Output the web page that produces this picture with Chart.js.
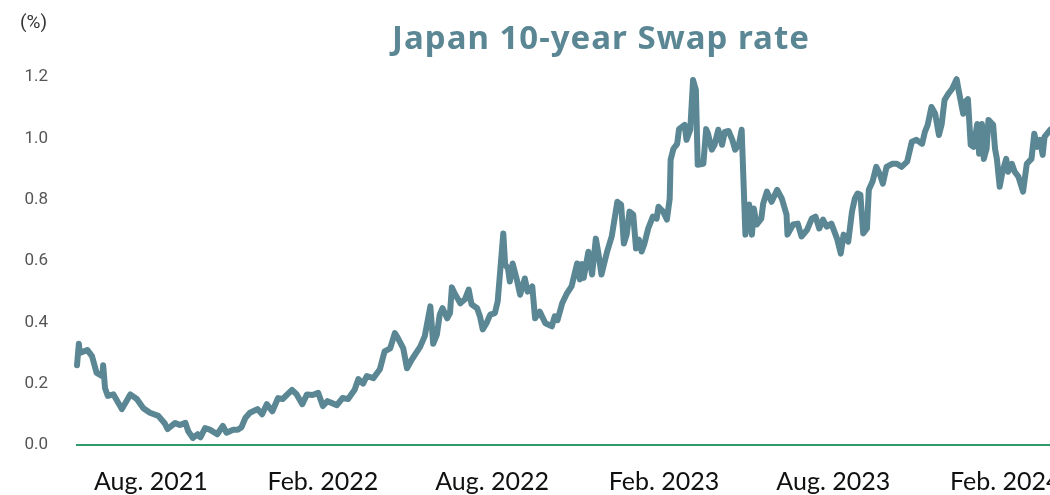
<!DOCTYPE html>
<html>
<head>
<meta charset="utf-8">
<script src="https://cdn.jsdelivr.net/npm/chart.js@4.4.1/dist/chart.umd.min.js"></script>
<style>
  html, body { margin: 0; padding: 0; background: #fff; overflow: hidden; }
  #wrap { width: 1120px; height: 495px; }
</style>
</head>
<body>
<div id="wrap"><canvas id="swap" width="1120" height="495"></canvas></div>
<script>
// days counted from 14 May 2021
const startDate = '2021-05-14';
const dayIdx = [
  0, 2, 3, 11, 16, 21, 27, 28, 30, 33, 39, 48, 57, 64, 71, 78, 87, 94, 97, 105,
  110, 116, 119, 124, 129, 132, 137, 142, 150, 156, 160, 167, 172, 176, 180, 185, 193, 198, 203, 209,
  215, 220, 230, 235, 241, 246, 252, 258, 263, 268, 278, 284, 290, 297, 301, 306, 310, 317, 324, 329,
  335, 340, 343, 349, 353, 358, 367, 372, 378, 381, 385, 388, 391, 396, 399, 401, 404, 410, 415, 419,
  422, 428, 431, 434, 438, 442, 447, 450, 456, 458, 461, 463, 466, 471, 474, 479, 482, 487, 490, 495,
  501, 508, 511, 514, 519, 524, 529, 535, 538, 540, 542, 547, 551, 555, 558, 561, 567, 572, 578, 582,
  585, 588, 591, 595, 598, 601, 604, 607, 611, 616, 620, 622, 627, 631, 634, 635, 638, 642, 644, 650,
  652, 656, 659, 662, 664, 670, 673, 675, 679, 682, 686, 690, 693, 697, 701, 704, 708, 711, 715, 719,
  722, 724, 727, 732, 734, 738, 743, 749, 754, 759, 760, 766, 771, 775, 781, 786, 790, 794, 798, 802,
  807, 813, 817, 820, 825, 829, 832, 835, 838, 841, 845, 847, 851, 855, 859, 862, 866, 872, 877, 882,
  888, 893, 898, 904, 907, 910, 914, 918, 922, 925, 928, 932, 936, 941, 943, 948, 950, 953, 956, 959,
  963, 965, 968, 970, 973, 975, 980, 982, 984, 987, 990, 994, 996, 1000, 1003, 1007, 1012, 1016, 1021, 1024,
  1027, 1030, 1033, 1035, 1041, 1047
];
const swapRate = [
  0.26, 0.33, 0.30, 0.31, 0.29, 0.235, 0.225, 0.26, 0.185, 0.16, 0.165, 0.117, 0.165, 0.15, 0.12, 0.105, 0.095, 0.07, 0.052, 0.072,
  0.065, 0.072, 0.045, 0.023, 0.035, 0.025, 0.055, 0.05, 0.035, 0.062, 0.04, 0.05, 0.05, 0.058, 0.088, 0.105, 0.117, 0.10, 0.133, 0.11,
  0.153, 0.15, 0.18, 0.165, 0.133, 0.165, 0.163, 0.17, 0.127, 0.143, 0.13, 0.153, 0.15, 0.18, 0.215, 0.20, 0.225, 0.218, 0.247, 0.305,
  0.315, 0.365, 0.35, 0.315, 0.25, 0.278, 0.32, 0.355, 0.452, 0.33, 0.36, 0.425, 0.446, 0.413, 0.43, 0.514, 0.494, 0.462, 0.475, 0.507,
  0.459, 0.446, 0.42, 0.377, 0.397, 0.425, 0.43, 0.468, 0.69, 0.588, 0.576, 0.533, 0.592, 0.533, 0.49, 0.543, 0.50, 0.517, 0.413, 0.435,
  0.397, 0.387, 0.42, 0.407, 0.462, 0.494, 0.517, 0.592, 0.54, 0.59, 0.545, 0.63, 0.556, 0.673, 0.62, 0.556, 0.63, 0.68, 0.793, 0.784,
  0.657, 0.686, 0.761, 0.751, 0.641, 0.67, 0.631, 0.657, 0.706, 0.745, 0.738, 0.777, 0.761, 0.735, 0.803, 0.93, 0.966, 0.982, 1.03, 1.044,
  0.995, 1.028, 1.19, 1.158, 0.914, 0.917, 1.03, 1.015, 0.963, 0.979, 1.028, 0.979, 1.021, 1.024, 0.995, 0.963, 0.979, 1.028, 0.686, 0.784,
  0.686, 0.771, 0.719, 0.738, 0.787, 0.826, 0.793, 0.832, 0.803, 0.751, 0.686, 0.719, 0.722, 0.68, 0.702, 0.738, 0.745, 0.706, 0.735, 0.712,
  0.722, 0.673, 0.624, 0.686, 0.663, 0.761, 0.803, 0.82, 0.816, 0.69, 0.706, 0.832, 0.859, 0.907, 0.881, 0.852, 0.907, 0.917, 0.917, 0.907,
  0.924, 0.989, 0.995, 0.982, 1.021, 1.044, 1.102, 1.08, 1.011, 1.047, 1.125, 1.145, 1.161, 1.193, 1.158, 1.08, 1.119, 1.128, 0.979, 0.972,
  1.047, 0.95, 1.047, 0.933, 0.966, 1.06, 1.044, 0.966, 0.933, 0.842, 0.891, 0.933, 0.891, 0.917, 0.891, 0.875, 0.826, 0.917, 0.933, 1.015,
  0.972, 0.995, 0.946, 1.005, 1.028, 1.04
];
const tickLabels = ['Aug. 2021', 'Feb. 2022', 'Aug. 2022', 'Feb. 2023', 'Aug. 2023', 'Feb. 2024'];
const tickDates = ['2021-08-01', '2022-02-01', '2022-08-01', '2023-02-01', '2023-08-01', '2024-02-01'];
const titleText = 'Japan 10-year Swap rate';
const unitText = '(%)';

const teal = '#5a8793';
const dayOf = d => (Date.parse(d) - Date.parse(startDate)) / 864e5;
const tickDays = tickDates.map(dayOf);

const textPlugin = {
  id: 'texts',
  afterDraw(chart) {
    const ctx = chart.ctx;
    ctx.save();
    ctx.fillStyle = teal;
    ctx.font = 'bold 33px "Noto Sans"';
    ctx.letterSpacing = '1px';
    ctx.textAlign = 'center';
    ctx.textBaseline = 'middle';
    ctx.fillText(titleText, 601, 40);
    ctx.letterSpacing = '0px';
    ctx.fillStyle = '#333';
    ctx.font = '19px Roboto';
    ctx.textAlign = 'left';
    ctx.fillText(unitText, 20, 23);
    ctx.restore();
  }
};

new Chart(document.getElementById('swap'), {
  type: 'line',
  data: {
    datasets: [{
      data: dayIdx.map((d, i) => ({x: d, y: swapRate[i]})),
      borderColor: teal,
      borderWidth: 6,
      pointRadius: 0,
      tension: 0,
      clip: false,
      borderJoinStyle: 'round',
      borderCapStyle: 'round'
    }]
  },
  options: {
    responsive: false,
    animation: false,
    devicePixelRatio: 1,
    layout: {padding: {top: 77, right: 10, left: 0, bottom: 0}},
    plugins: {legend: {display: false}, tooltip: {enabled: false}},
    scales: {
      x: {
        type: 'linear',
        min: 0,
        max: 1105,
        grid: {display: false, drawTicks: false},
        border: {display: true, color: '#2f9a6c', width: 2},
        afterBuildTicks: s => { s.ticks = tickDays.map(v => ({value: v})); },
        afterFit: s => { s.height = 50; },
        ticks: {
          autoSkip: false,
          maxRotation: 0,
          padding: 22,
          color: '#111',
          font: {family: 'Lato', size: 25},
          callback: (v, i) => tickLabels[i]
        }
      },
      y: {
        min: 0,
        max: 1.2,
        grid: {display: false, drawTicks: false},
        border: {display: false},
        afterFit: s => { s.width = 77; },
        ticks: {
          stepSize: 0.2,
          padding: 29,
          color: '#555',
          font: {family: 'Roboto', size: 17},
          callback: v => v.toFixed(1)
        }
      }
    }
  },
  plugins: [textPlugin]
});
</script>
</body>
</html>
